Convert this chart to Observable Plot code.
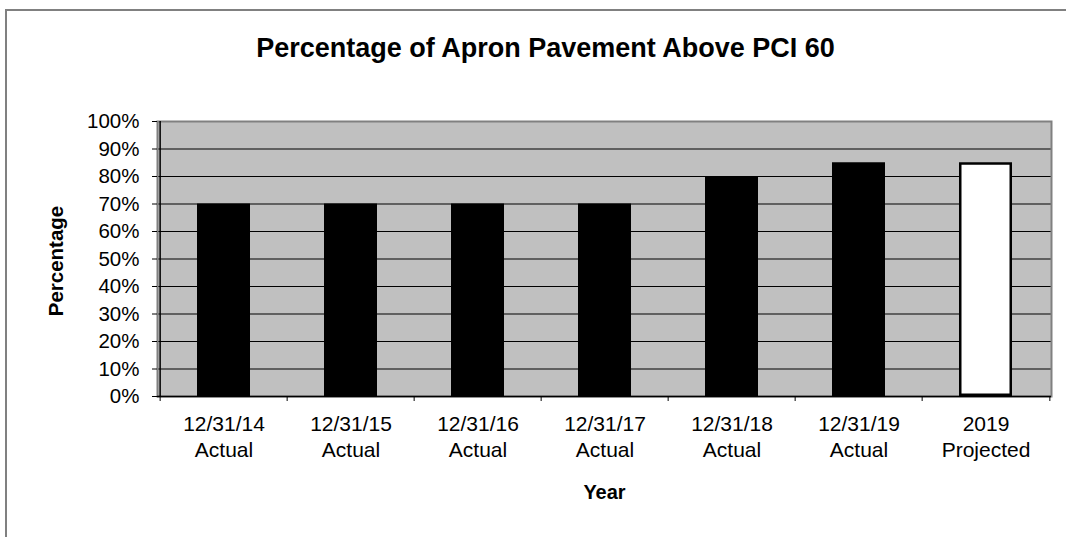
<!DOCTYPE html>
<html>
<head>
<meta charset="utf-8">
<script src="https://cdn.jsdelivr.net/npm/d3@7"></script>
<script src="https://cdn.jsdelivr.net/npm/@observablehq/plot@0.6"></script>
<style>
  html, body { margin: 0; padding: 0; width: 1066px; height: 537px; overflow: hidden; background: #fff; }
  body { font-family: "Liberation Sans", Arial, sans-serif; position: relative; }
  #frame { position: absolute; left: 5px; top: 9px; width: 1200px; height: 700px;
           border-left: 2px solid #808080; border-top: 2px solid #808080; }
  #title { position: absolute; left: 0; top: 35px; width: 1091px; text-align: center;
           font: bold 27px "Liberation Sans", Arial, sans-serif; line-height: 1; color: #000; }
  #chart { position: absolute; left: 0; top: 80px; }
</style>
</head>
<body>
<div id="frame"></div>
<div id="title">Percentage of Apron Pavement Above PCI 60</div>
<div id="chart"></div>
<script>
// ---- data ----
const periods = ["12/31/14", "12/31/15", "12/31/16", "12/31/17", "12/31/18", "12/31/19", "2019"];
const statuses = ["Actual", "Actual", "Actual", "Actual", "Actual", "Actual", "Projected"];
const percentages = [70, 70, 70, 70, 80, 85, 85];
const yTicks = [0, 10, 20, 30, 40, 50, 60, 70, 80, 90, 100];
const xTitle = "Year";
const yTitle = "Percentage";

// ---- build table ----
const labels = periods.map((p, i) => p + "\n" + statuses[i]);
const rows = labels.map((l, i) => ({label: l, status: statuses[i], value: percentages[i]}));

const W = 1066, H = 457, mL = 157, mR = 15, mT = 41, mB = 141;
const step = (W - mL - mR) / labels.length;
const font = '"Liberation Sans", Arial, sans-serif';

const chart = Plot.plot({
  width: W, height: H,
  marginLeft: mL, marginRight: mR, marginTop: mT, marginBottom: mB,
  style: {fontFamily: font, fontSize: "20px", color: "#000", background: "transparent", overflow: "visible"},
  x: {domain: labels, paddingInner: 0.585, paddingOuter: 0.2925, label: null},
  y: {domain: [0, 100], label: null},
  marks: [
    Plot.frame({fill: "#C0C0C0"}),
    Plot.ruleY(yTicks, {stroke: "#000", strokeWidth: 1}),
    Plot.frame({stroke: "#808080", strokeWidth: 2}),
    Plot.barY(rows.filter(d => d.status === "Actual"), {x: "label", y: "value", fill: "#000"}),
    Plot.barY(rows.filter(d => d.status !== "Actual"), {x: "label", y: "value", fill: "#fff", stroke: "#000", strokeWidth: 2.5, inset: 1.25}),
    Plot.ruleY([0], {stroke: "#000", strokeWidth: 1.5}),
    Plot.ruleX([labels[0]], {dx: -step / 2, y1: 0, y2: 100, stroke: "#000", strokeWidth: 1.5}),
    Plot.ruleX(labels, {dx: -step / 2, y1: 0, y2: 0, insetTop: 0, insetBottom: -5, stroke: "#000"}),
    Plot.ruleX([labels[labels.length - 1]], {dx: step / 2, y1: 0, y2: 0, insetTop: 0, insetBottom: -5, stroke: "#000"}),
    Plot.axisY({ticks: yTicks, tickSize: 5, tickPadding: 13, tickFormat: d => d + "%", label: null, stroke: "#000", fill: "#000", fontSize: 20.5}),
    Plot.axisX({tickSize: 0, tickPadding: 17, lineHeight: 1.2, label: null, fill: "#000", fontSize: 21}),
    Plot.text([xTitle], {text: d => d, frameAnchor: "bottom", textAnchor: "middle", lineAnchor: "middle", dy: 96.5, fontWeight: "bold", fontSize: 20, fill: "#000"}),
    Plot.text([yTitle], {text: d => d, frameAnchor: "left", textAnchor: "middle", lineAnchor: "middle", dx: -101, dy: 2, rotate: -90, fontWeight: "bold", fontSize: 20.5, fill: "#000"})
  ]
});
document.getElementById("chart").appendChild(chart);
</script>
</body>
</html>
